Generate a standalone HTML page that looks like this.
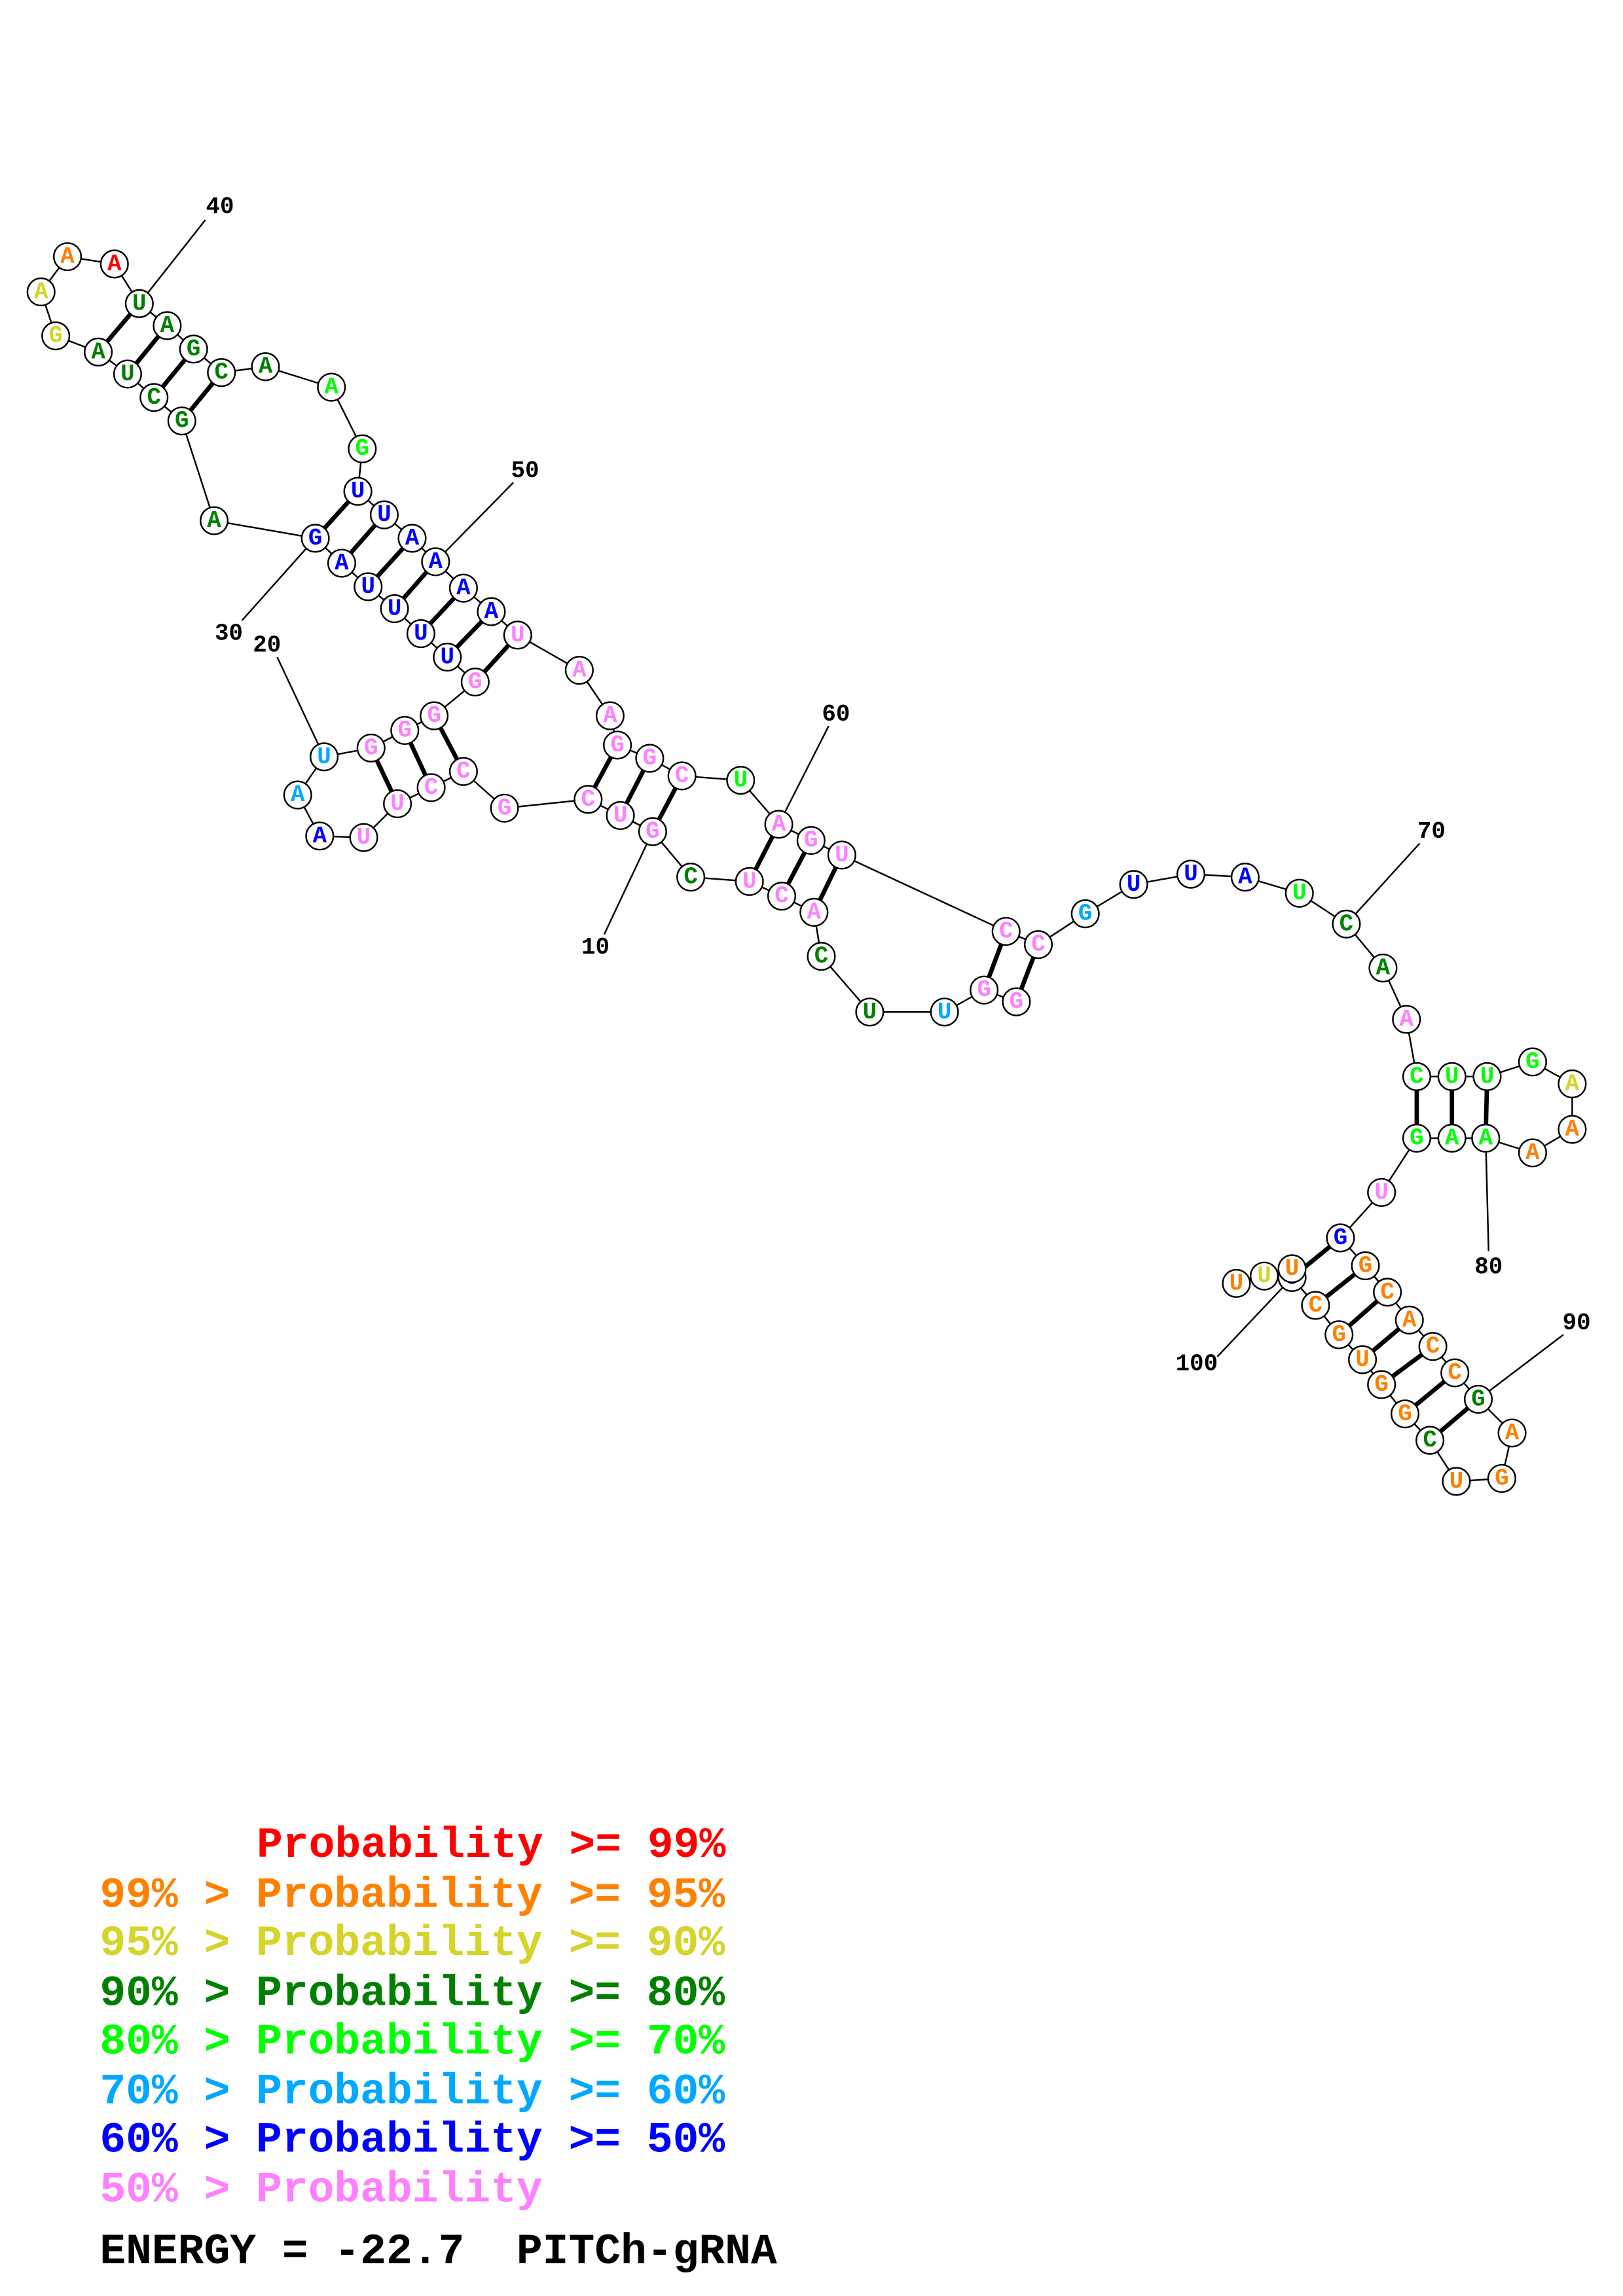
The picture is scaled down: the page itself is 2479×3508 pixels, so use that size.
<!DOCTYPE html>
<html><head><meta charset="utf-8"><style>
html,body{margin:0;padding:0;background:#fff;}
svg{display:block;}
.n{font-family:"Liberation Mono","DejaVu Sans Mono",monospace;font-weight:bold;font-size:16px;text-anchor:middle;dominant-baseline:central;}
.l{font-family:"Liberation Mono","DejaVu Sans Mono",monospace;font-weight:bold;font-size:16px;text-anchor:middle;dominant-baseline:central;fill:#000;}
.g{font-family:"Liberation Mono","DejaVu Sans Mono",monospace;font-weight:bold;font-size:29.6px;white-space:pre;}
circle{fill:#fff;stroke:#000;stroke-width:1.1;}
</style></head><body>
<svg width="2479" height="3508" viewBox="0 0 1100 1556" preserveAspectRatio="none" xmlns="http://www.w3.org/2000/svg">
<rect width="1100" height="1556" fill="#fff"/>
<g transform="scale(0.994)">
<polyline fill="none" stroke="#000" stroke-width="1.1" points="693,683 671,675 644,690 593,690 560,652 555,622 533,611 511,601 471,598 445,567 423,556 401,545 344,551 316,526 294,537 271,548 248,571 218,570 203,542 221,516 253,510 276,498 296,488 324,465 305,448 287,432 269,415 251,400 233,384 215,367 146,355 124,287 105,271 87,255 67,240 38,229 28,199 46,175 78,180 95,207 114,222 132,238 151,254 181,250 226,264 247,306 244,335 262,351 281,367 297,383 316,401 335,417 353,433 395,457 416,488 421,508 443,517 465,529 505,532 531,562 553,573 574,583 686,635 708,644 740,623 773,603 812,596 849,598 886,609 918,630 943,660 959,695 966,734 990,734 1014,734 1045,724 1072,739 1072,770 1045,786 1013,776 990,776 966,776 942,813 914,844 931,863 946,881 961,900 977,918 992,936 1008,954 1031,977 1024,1008 993,1010 975,982 958,964 942,944 929,927 913,910 897,890 881,871 881,865 862,870 843,875"/>
<g stroke="#000" stroke-width="3">
<line x1="67" y1="240" x2="95" y2="207"/><line x1="87" y1="255" x2="114" y2="222"/><line x1="105" y1="271" x2="132" y2="238"/><line x1="124" y1="287" x2="151" y2="254"/>
<line x1="215" y1="367" x2="244" y2="335"/><line x1="233" y1="384" x2="262" y2="351"/><line x1="251" y1="400" x2="281" y2="367"/><line x1="269" y1="415" x2="297" y2="383"/><line x1="287" y1="432" x2="316" y2="401"/><line x1="305" y1="448" x2="335" y2="417"/><line x1="324" y1="465" x2="353" y2="433"/>
<line x1="296" y1="488" x2="316" y2="526"/><line x1="276" y1="498" x2="294" y2="537"/><line x1="253" y1="510" x2="271" y2="548"/>
<line x1="421" y1="508" x2="401" y2="545"/><line x1="443" y1="517" x2="423" y2="556"/><line x1="465" y1="529" x2="445" y2="567"/>
<line x1="531" y1="562" x2="511" y2="601"/><line x1="553" y1="573" x2="533" y2="611"/><line x1="574" y1="583" x2="555" y2="622"/>
<line x1="686" y1="635" x2="671" y2="675"/><line x1="708" y1="644" x2="693" y2="683"/>
<line x1="966" y1="734" x2="966" y2="776"/><line x1="990" y1="734" x2="990" y2="776"/><line x1="1014" y1="734" x2="1013" y2="776"/>
<line x1="914" y1="844" x2="881" y2="871"/><line x1="931" y1="863" x2="897" y2="890"/><line x1="946" y1="881" x2="913" y2="910"/><line x1="961" y1="900" x2="929" y2="927"/><line x1="977" y1="918" x2="942" y2="944"/><line x1="992" y1="936" x2="958" y2="964"/><line x1="1008" y1="954" x2="975" y2="982"/>
</g>
<g stroke="#000" stroke-width="1.1">
<line x1="412" y1="637" x2="445" y2="567"/><line x1="189" y1="448" x2="221" y2="516"/><line x1="165" y1="423" x2="215" y2="367"/><line x1="140" y1="150" x2="95" y2="207"/><line x1="350" y1="329" x2="297" y2="383"/><line x1="565" y1="495" x2="531" y2="562"/><line x1="968" y1="575" x2="918" y2="630"/><line x1="1015" y1="853" x2="1013" y2="776"/><line x1="1066" y1="910" x2="1008" y2="954"/><line x1="830" y1="925" x2="881" y2="871"/>
</g>
<g>
<text class="l" x="406" y="646">10</text><text class="l" x="182" y="440">20</text><text class="l" x="156" y="432">30</text><text class="l" x="150" y="141">40</text><text class="l" x="358" y="321">50</text><text class="l" x="570" y="487">60</text><text class="l" x="976" y="567">70</text><text class="l" x="1015" y="864">80</text><text class="l" x="1075" y="902">90</text><text class="l" x="816" y="930">100</text>
</g>
<g>
<circle cx="693" cy="683" r="9.3"/><text class="n" x="693" y="683" fill="#ff80ff">G</text>
<circle cx="671" cy="675" r="9.3"/><text class="n" x="671" y="675" fill="#ff80ff">G</text>
<circle cx="644" cy="690" r="9.3"/><text class="n" x="644" y="690" fill="#00a8ff">U</text>
<circle cx="593" cy="690" r="9.3"/><text class="n" x="593" y="690" fill="#008000">U</text>
<circle cx="560" cy="652" r="9.3"/><text class="n" x="560" y="652" fill="#008000">C</text>
<circle cx="555" cy="622" r="9.3"/><text class="n" x="555" y="622" fill="#ff80ff">A</text>
<circle cx="533" cy="611" r="9.3"/><text class="n" x="533" y="611" fill="#ff80ff">C</text>
<circle cx="511" cy="601" r="9.3"/><text class="n" x="511" y="601" fill="#ff80ff">U</text>
<circle cx="471" cy="598" r="9.3"/><text class="n" x="471" y="598" fill="#008000">C</text>
<circle cx="445" cy="567" r="9.3"/><text class="n" x="445" y="567" fill="#ff80ff">G</text>
<circle cx="423" cy="556" r="9.3"/><text class="n" x="423" y="556" fill="#ff80ff">U</text>
<circle cx="401" cy="545" r="9.3"/><text class="n" x="401" y="545" fill="#ff80ff">C</text>
<circle cx="344" cy="551" r="9.3"/><text class="n" x="344" y="551" fill="#ff80ff">G</text>
<circle cx="316" cy="526" r="9.3"/><text class="n" x="316" y="526" fill="#ff80ff">C</text>
<circle cx="294" cy="537" r="9.3"/><text class="n" x="294" y="537" fill="#ff80ff">C</text>
<circle cx="271" cy="548" r="9.3"/><text class="n" x="271" y="548" fill="#ff80ff">U</text>
<circle cx="248" cy="571" r="9.3"/><text class="n" x="248" y="571" fill="#ff80ff">U</text>
<circle cx="218" cy="570" r="9.3"/><text class="n" x="218" y="570" fill="#0000ff">A</text>
<circle cx="203" cy="542" r="9.3"/><text class="n" x="203" y="542" fill="#00a8ff">A</text>
<circle cx="221" cy="516" r="9.3"/><text class="n" x="221" y="516" fill="#00a8ff">U</text>
<circle cx="253" cy="510" r="9.3"/><text class="n" x="253" y="510" fill="#ff80ff">G</text>
<circle cx="276" cy="498" r="9.3"/><text class="n" x="276" y="498" fill="#ff80ff">G</text>
<circle cx="296" cy="488" r="9.3"/><text class="n" x="296" y="488" fill="#ff80ff">G</text>
<circle cx="324" cy="465" r="9.3"/><text class="n" x="324" y="465" fill="#ff80ff">G</text>
<circle cx="305" cy="448" r="9.3"/><text class="n" x="305" y="448" fill="#0000ff">U</text>
<circle cx="287" cy="432" r="9.3"/><text class="n" x="287" y="432" fill="#0000ff">U</text>
<circle cx="269" cy="415" r="9.3"/><text class="n" x="269" y="415" fill="#0000ff">U</text>
<circle cx="251" cy="400" r="9.3"/><text class="n" x="251" y="400" fill="#0000ff">U</text>
<circle cx="233" cy="384" r="9.3"/><text class="n" x="233" y="384" fill="#0000ff">A</text>
<circle cx="215" cy="367" r="9.3"/><text class="n" x="215" y="367" fill="#0000ff">G</text>
<circle cx="146" cy="355" r="9.3"/><text class="n" x="146" y="355" fill="#008000">A</text>
<circle cx="124" cy="287" r="9.3"/><text class="n" x="124" y="287" fill="#008000">G</text>
<circle cx="105" cy="271" r="9.3"/><text class="n" x="105" y="271" fill="#008000">C</text>
<circle cx="87" cy="255" r="9.3"/><text class="n" x="87" y="255" fill="#008000">U</text>
<circle cx="67" cy="240" r="9.3"/><text class="n" x="67" y="240" fill="#008000">A</text>
<circle cx="38" cy="229" r="9.3"/><text class="n" x="38" y="229" fill="#d4d42a">G</text>
<circle cx="28" cy="199" r="9.3"/><text class="n" x="28" y="199" fill="#d4d42a">A</text>
<circle cx="46" cy="175" r="9.3"/><text class="n" x="46" y="175" fill="#ff8000">A</text>
<circle cx="78" cy="180" r="9.3"/><text class="n" x="78" y="180" fill="#ff0000">A</text>
<circle cx="95" cy="207" r="9.3"/><text class="n" x="95" y="207" fill="#008000">U</text>
<circle cx="114" cy="222" r="9.3"/><text class="n" x="114" y="222" fill="#008000">A</text>
<circle cx="132" cy="238" r="9.3"/><text class="n" x="132" y="238" fill="#008000">G</text>
<circle cx="151" cy="254" r="9.3"/><text class="n" x="151" y="254" fill="#008000">C</text>
<circle cx="181" cy="250" r="9.3"/><text class="n" x="181" y="250" fill="#008000">A</text>
<circle cx="226" cy="264" r="9.3"/><text class="n" x="226" y="264" fill="#00ff00">A</text>
<circle cx="247" cy="306" r="9.3"/><text class="n" x="247" y="306" fill="#00ff00">G</text>
<circle cx="244" cy="335" r="9.3"/><text class="n" x="244" y="335" fill="#0000ff">U</text>
<circle cx="262" cy="351" r="9.3"/><text class="n" x="262" y="351" fill="#0000ff">U</text>
<circle cx="281" cy="367" r="9.3"/><text class="n" x="281" y="367" fill="#0000ff">A</text>
<circle cx="297" cy="383" r="9.3"/><text class="n" x="297" y="383" fill="#0000ff">A</text>
<circle cx="316" cy="401" r="9.3"/><text class="n" x="316" y="401" fill="#0000ff">A</text>
<circle cx="335" cy="417" r="9.3"/><text class="n" x="335" y="417" fill="#0000ff">A</text>
<circle cx="353" cy="433" r="9.3"/><text class="n" x="353" y="433" fill="#ff80ff">U</text>
<circle cx="395" cy="457" r="9.3"/><text class="n" x="395" y="457" fill="#ff80ff">A</text>
<circle cx="416" cy="488" r="9.3"/><text class="n" x="416" y="488" fill="#ff80ff">A</text>
<circle cx="421" cy="508" r="9.3"/><text class="n" x="421" y="508" fill="#ff80ff">G</text>
<circle cx="443" cy="517" r="9.3"/><text class="n" x="443" y="517" fill="#ff80ff">G</text>
<circle cx="465" cy="529" r="9.3"/><text class="n" x="465" y="529" fill="#ff80ff">C</text>
<circle cx="505" cy="532" r="9.3"/><text class="n" x="505" y="532" fill="#00ff00">U</text>
<circle cx="531" cy="562" r="9.3"/><text class="n" x="531" y="562" fill="#ff80ff">A</text>
<circle cx="553" cy="573" r="9.3"/><text class="n" x="553" y="573" fill="#ff80ff">G</text>
<circle cx="574" cy="583" r="9.3"/><text class="n" x="574" y="583" fill="#ff80ff">U</text>
<circle cx="686" cy="635" r="9.3"/><text class="n" x="686" y="635" fill="#ff80ff">C</text>
<circle cx="708" cy="644" r="9.3"/><text class="n" x="708" y="644" fill="#ff80ff">C</text>
<circle cx="740" cy="623" r="9.3"/><text class="n" x="740" y="623" fill="#00a8ff">G</text>
<circle cx="773" cy="603" r="9.3"/><text class="n" x="773" y="603" fill="#0000ff">U</text>
<circle cx="812" cy="596" r="9.3"/><text class="n" x="812" y="596" fill="#0000ff">U</text>
<circle cx="849" cy="598" r="9.3"/><text class="n" x="849" y="598" fill="#0000ff">A</text>
<circle cx="886" cy="609" r="9.3"/><text class="n" x="886" y="609" fill="#00ff00">U</text>
<circle cx="918" cy="630" r="9.3"/><text class="n" x="918" y="630" fill="#008000">C</text>
<circle cx="943" cy="660" r="9.3"/><text class="n" x="943" y="660" fill="#008000">A</text>
<circle cx="959" cy="695" r="9.3"/><text class="n" x="959" y="695" fill="#ff80ff">A</text>
<circle cx="966" cy="734" r="9.3"/><text class="n" x="966" y="734" fill="#00ff00">C</text>
<circle cx="990" cy="734" r="9.3"/><text class="n" x="990" y="734" fill="#00ff00">U</text>
<circle cx="1014" cy="734" r="9.3"/><text class="n" x="1014" y="734" fill="#00ff00">U</text>
<circle cx="1045" cy="724" r="9.3"/><text class="n" x="1045" y="724" fill="#00ff00">G</text>
<circle cx="1072" cy="739" r="9.3"/><text class="n" x="1072" y="739" fill="#d4d42a">A</text>
<circle cx="1072" cy="770" r="9.3"/><text class="n" x="1072" y="770" fill="#ff8000">A</text>
<circle cx="1045" cy="786" r="9.3"/><text class="n" x="1045" y="786" fill="#ff8000">A</text>
<circle cx="1013" cy="776" r="9.3"/><text class="n" x="1013" y="776" fill="#00ff00">A</text>
<circle cx="990" cy="776" r="9.3"/><text class="n" x="990" y="776" fill="#00ff00">A</text>
<circle cx="966" cy="776" r="9.3"/><text class="n" x="966" y="776" fill="#00ff00">G</text>
<circle cx="942" cy="813" r="9.3"/><text class="n" x="942" y="813" fill="#ff80ff">U</text>
<circle cx="914" cy="844" r="9.3"/><text class="n" x="914" y="844" fill="#0000ff">G</text>
<circle cx="931" cy="863" r="9.3"/><text class="n" x="931" y="863" fill="#ff8000">G</text>
<circle cx="946" cy="881" r="9.3"/><text class="n" x="946" y="881" fill="#ff8000">C</text>
<circle cx="961" cy="900" r="9.3"/><text class="n" x="961" y="900" fill="#ff8000">A</text>
<circle cx="977" cy="918" r="9.3"/><text class="n" x="977" y="918" fill="#ff8000">C</text>
<circle cx="992" cy="936" r="9.3"/><text class="n" x="992" y="936" fill="#ff8000">C</text>
<circle cx="1008" cy="954" r="9.3"/><text class="n" x="1008" y="954" fill="#008000">G</text>
<circle cx="1031" cy="977" r="9.3"/><text class="n" x="1031" y="977" fill="#ff8000">A</text>
<circle cx="1024" cy="1008" r="9.3"/><text class="n" x="1024" y="1008" fill="#ff8000">G</text>
<circle cx="993" cy="1010" r="9.3"/><text class="n" x="993" y="1010" fill="#ff8000">U</text>
<circle cx="975" cy="982" r="9.3"/><text class="n" x="975" y="982" fill="#008000">C</text>
<circle cx="958" cy="964" r="9.3"/><text class="n" x="958" y="964" fill="#ff8000">G</text>
<circle cx="942" cy="944" r="9.3"/><text class="n" x="942" y="944" fill="#ff8000">G</text>
<circle cx="929" cy="927" r="9.3"/><text class="n" x="929" y="927" fill="#ff8000">U</text>
<circle cx="913" cy="910" r="9.3"/><text class="n" x="913" y="910" fill="#ff8000">G</text>
<circle cx="897" cy="890" r="9.3"/><text class="n" x="897" y="890" fill="#ff8000">C</text>
<circle cx="881" cy="871" r="9.3"/><text class="n" x="881" y="871" fill="#0000ff">U</text>
<circle cx="843" cy="875" r="9.3"/><text class="n" x="843" y="875" fill="#ff8000">U</text>
<circle cx="862" cy="870" r="9.3"/><text class="n" x="862" y="870" fill="#d4d42a">U</text>
<circle cx="881" cy="865" r="9.3"/><text class="n" x="881" y="865" fill="#ff8000">U</text>
</g>
<g class="g">
<text x="175" y="1266" fill="#ff0000">Probability &gt;= 99%</text>
<text x="68" y="1300" fill="#ff8000">99% &gt; Probability &gt;= 95%</text>
<text x="68" y="1333" fill="#d4d42a">95% &gt; Probability &gt;= 90%</text>
<text x="68" y="1367" fill="#008000">90% &gt; Probability &gt;= 80%</text>
<text x="68" y="1400" fill="#00ff00">80% &gt; Probability &gt;= 70%</text>
<text x="68" y="1434" fill="#00a8ff">70% &gt; Probability &gt;= 60%</text>
<text x="68" y="1467" fill="#0000ff">60% &gt; Probability &gt;= 50%</text>
<text x="68" y="1501" fill="#ff80ff">50% &gt; Probability</text>
<text x="68" y="1543" fill="#000">ENERGY = -22.7&#160; PITCh-gRNA</text>
</g>
</g>
</svg>
</body></html>
